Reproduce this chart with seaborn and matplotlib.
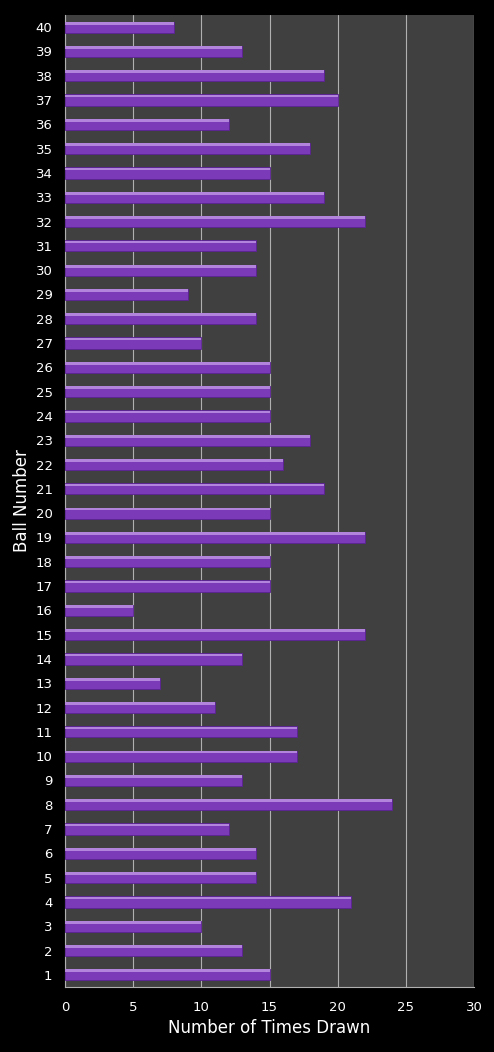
import numpy as np
import pandas as pd
import matplotlib
matplotlib.use("Agg")
import matplotlib.pyplot as plt
import seaborn as sns

balls = list(range(1, 41))
times_drawn = [15, 13, 10, 21, 14, 14, 12, 24, 13, 17,
               17, 11, 7, 13, 22, 5, 15, 15, 22, 15,
               19, 16, 18, 15, 15, 15, 10, 14, 9, 14,
               14, 22, 19, 15, 18, 12, 20, 19, 13, 8]

df = pd.DataFrame({"Ball": [str(b) for b in balls], "Times": times_drawn})
order = [str(b) for b in reversed(balls)]

sns.set_style("dark")
plt.rcParams['font.family'] = ['DejaVu Sans']

fig = plt.figure(figsize=(4.94, 10.52), dpi=100, facecolor='black')
ax = fig.add_axes([0.1316, 0.0618, 0.8279, 0.9239])
ax.set_facecolor('#404040')

sns.barplot(data=df, x="Times", y="Ball", order=order, orient='h',
            color='#7b3bb8', saturation=1, width=0.46, ax=ax,
            edgecolor='#5c2294', linewidth=0.6, zorder=3)

# lighter top strip to mimic the bevelled bar look
pos = {b: i for i, b in enumerate(order)}
ys = [pos[b] - 0.165 for b in df["Ball"]]
ax.barh(ys, df["Times"], height=0.11, color='#b284dc', linewidth=0, zorder=4)

ax.set_xlim(0, 30)
ax.set_ylim(len(order) - 0.5, -0.5)
ax.set_xticks(range(0, 31, 5))
ax.xaxis.grid(True, color='#b0b0b0', linewidth=0.8, zorder=0)
ax.yaxis.grid(False)
ax.set_axisbelow(True)

for s in ax.spines.values():
    s.set_visible(False)
ax.spines['left'].set_visible(True)
ax.spines['bottom'].set_visible(True)
ax.spines['left'].set_color('#b0b0b0')
ax.spines['bottom'].set_color('#b0b0b0')

ax.tick_params(colors='white', labelsize=9.5, length=0)
ax.tick_params(axis='y', pad=9)
ax.tick_params(axis='x', pad=10)
ax.set_xlabel("Number of Times Drawn", color='white', fontsize=12, labelpad=4)
ax.set_ylabel("Ball Number", color='white', fontsize=12, labelpad=3)

fig.savefig("out.png", dpi=100, facecolor='black')
